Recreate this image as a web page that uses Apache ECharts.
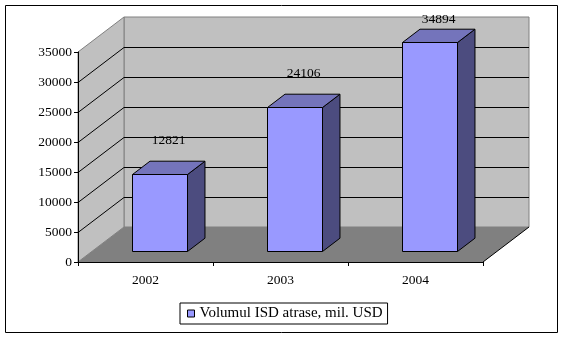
<!DOCTYPE html>
<html>
<head>
<meta charset="utf-8">
<script src="https://cdn.jsdelivr.net/npm/echarts@6/dist/echarts.min.js"></script>
<style>
html,body{margin:0;padding:0;background:#fff;}
#chart{width:564px;height:338px;}
</style>
</head>
<body>
<div id="chart"></div>
<script>
// ---- data ----
var years = ['2002', '2003', '2004'];
var values = [12821, 24106, 34894];
var yTicks = [0, 5000, 10000, 15000, 20000, 25000, 30000, 35000];
var seriesName = 'Volumul ISD atrase, mil. USD';

// ---- style constants ----
var DX = 46, DY = -35;          // depth offset of the back wall
var F0 = 0.31, F1 = 0.69;       // bar depth fractions
var BAR_FRAC = 0.41;            // bar width / category width
var FONT = 'Liberation Serif, Times New Roman, serif';

var chart = echarts.init(document.getElementById('chart'), null, {renderer: 'canvas'});

function wallsRender(params, api) {
  var cs = params.coordSys;
  var x0 = cs.x, x1 = cs.x + cs.width, yT = cs.y, yB = cs.y + cs.height;
  var children = [];
  children.push({type: 'rect', shape: {x: x0 + DX, y: yT + DY, width: cs.width, height: cs.height},
    style: {fill: '#c0c0c0', stroke: '#808080', lineWidth: 1}});
  children.push({type: 'polygon', shape: {points: [[x0, yB], [x0, yT], [x0 + DX, yT + DY], [x0 + DX, yB + DY]]},
    style: {fill: '#c0c0c0', stroke: '#808080', lineWidth: 1}});
  children.push({type: 'polygon', shape: {points: [[x0, yB], [x1, yB], [x1 + DX, yB + DY], [x0 + DX, yB + DY]]},
    style: {fill: '#808080', stroke: null}});
  children.push({type: 'line', shape: {x1: x1, y1: yB, x2: x1 + DX, y2: yB + DY},
    style: {stroke: '#000', lineWidth: 1}});
  for (var i = 0; i < yTicks.length; i++) {
    var v = yTicks[i];
    if (v === yTicks[0] || v === yTicks[yTicks.length - 1]) continue;
    var y = Math.round(api.coord([0, v])[1]) + 0.5;
    children.push({type: 'polyline', shape: {points: [[x0, y], [x0 + DX, y + DY], [x1 + DX, y + DY]]},
      style: {stroke: '#000', lineWidth: 1, fill: null}});
  }
  return {type: 'group', children: children};
}

function barRender(params, api) {
  var cs = params.coordSys;
  var idx = api.value(0), val = api.value(1);
  var base = api.coord([idx, 0]);
  var top = api.coord([idx, val]);
  var bandW = api.size([1, 0])[0];
  var w = bandW * BAR_FRAC;
  var fx = DX * F0, fy = DY * F0;
  var bx = DX * (F1 - F0), by = DY * (F1 - F0);
  var xl = Math.round(base[0] - w / 2 + fx) + 0.5;
  var xr = Math.round(base[0] + w / 2 + fx) + 0.5;
  var yt = Math.round(top[1] + fy) + 0.5;
  var yb = Math.round(base[1] + fy) + 0.5;
  var st = {stroke: '#000', lineWidth: 1};
  var topBack = yt + by;
  var labelY = Math.max(topBack - 21, cs.y + DY + 2);
  return {type: 'group', children: [
    {type: 'polygon', shape: {points: [[xr, yt], [xr + bx, yt + by], [xr + bx, yb + by], [xr, yb]]},
      style: Object.assign({fill: '#4c4c7f'}, st)},
    {type: 'polygon', shape: {points: [[xl, yt], [xl + bx, yt + by], [xr + bx, yt + by], [xr, yt]]},
      style: Object.assign({fill: '#7474bb'}, st)},
    {type: 'rect', shape: {x: xl, y: yt, width: xr - xl, height: yb - yt},
      style: Object.assign({fill: '#9999ff'}, st)},
    {type: 'text', x: base[0] + DX * (F0 + F1) / 2, y: labelY,
      style: {text: String(val), fill: '#000', font: '13.5px ' + FONT, align: 'center', verticalAlign: 'middle'}}
  ]};
}

var option = {
  animation: false,
  backgroundColor: '#ffffff',
  graphic: [{type: 'rect', shape: {x: 5.5, y: 5.5, width: 552, height: 327},
    style: {fill: null, stroke: '#000', lineWidth: 1}, z: 100}],
  grid: {left: 78, right: 81, top: 52, bottom: 76, containLabel: false},
  xAxis: {
    type: 'category', data: years,
    axisLine: {show: true, lineStyle: {color: '#000', width: 1}},
    axisTick: {show: true, length: 4, lineStyle: {color: '#000'}, alignWithLabel: false},
    axisLabel: {color: '#000', fontFamily: FONT, fontSize: 13.5, margin: 11},
    splitLine: {show: false}, z: 10
  },
  yAxis: {
    type: 'value', min: 0, max: 35000, interval: 5000,
    axisLine: {show: true, lineStyle: {color: '#000', width: 1}},
    axisTick: {show: true, length: 4, lineStyle: {color: '#000'}},
    axisLabel: {color: '#000', fontFamily: FONT, fontSize: 13.5, margin: 6,
      formatter: function (v) { return String(v); }},
    splitLine: {show: false}, z: 10
  },
  legend: {
    show: true, left: 180, top: 303,
    orient: 'horizontal',
    padding: [3, 5, 3, 7],
    borderColor: '#000', borderWidth: 1, backgroundColor: '#fff',
    itemWidth: 7, itemHeight: 7,
    textStyle: {color: '#000', fontFamily: FONT, fontSize: 15},
    data: [{name: seriesName, icon: 'rect', itemStyle: {color: '#9999ff', borderColor: '#000', borderWidth: 1}}]
  },
  series: [
    {type: 'custom', name: 'walls', renderItem: wallsRender, data: [[0, 0]], z: 1, silent: true,
      encode: {x: 0, y: 1}},
    {type: 'custom', name: seriesName, renderItem: barRender, z: 5,
      itemStyle: {color: '#9999ff'},
      data: values.map(function (v, i) { return [i, v]; }),
      encode: {x: 0, y: 1}}
  ]
};
chart.setOption(option);
</script>
</body>
</html>
